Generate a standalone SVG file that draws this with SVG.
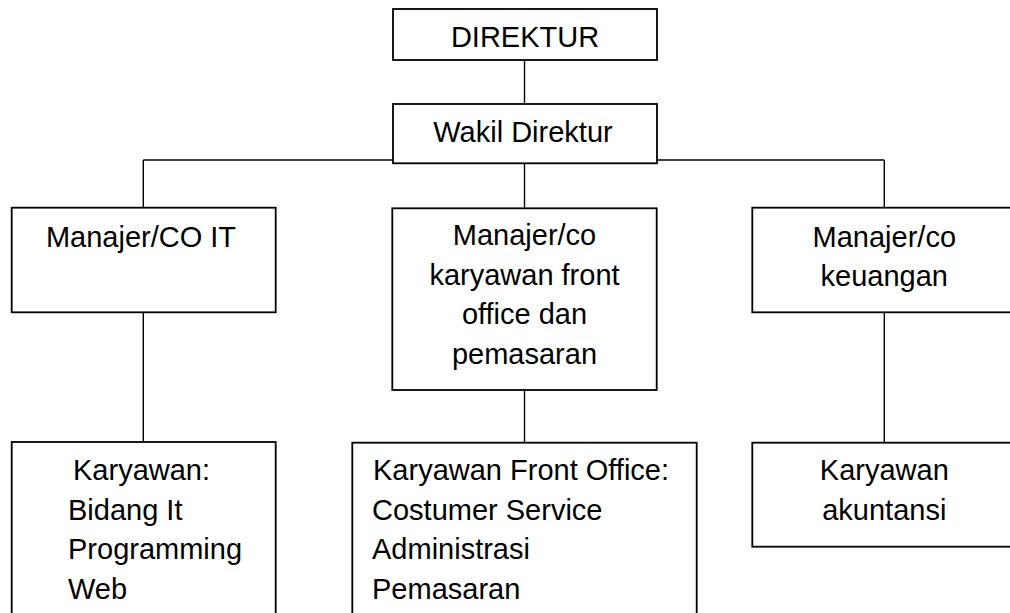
<svg xmlns="http://www.w3.org/2000/svg" width="1010" height="613" viewBox="0 0 1010 613">
<style>
.box{fill:#fff;stroke:#000;stroke-width:1.8}
.conn{fill:none;stroke:#000;stroke-width:1.4}
text{font-family:"Liberation Sans",Arial,sans-serif;font-size:29px;fill:#000}
.c{text-anchor:middle}
</style>
<rect width="1010" height="613" fill="#fff"/>
<g id="connectors">
<line class="conn" x1="524.5" y1="60" x2="524.5" y2="104"/>
<line class="conn" x1="143.3" y1="160" x2="884.3" y2="160"/>
<line class="conn" x1="143.3" y1="160" x2="143.3" y2="207.7"/>
<line class="conn" x1="524.5" y1="163" x2="524.5" y2="208.3"/>
<line class="conn" x1="884.3" y1="160" x2="884.3" y2="207.7"/>
<line class="conn" x1="143.3" y1="312.3" x2="143.3" y2="442"/>
<line class="conn" x1="524.5" y1="390" x2="524.5" y2="442.7"/>
<line class="conn" x1="884.3" y1="312.3" x2="884.3" y2="442.7"/>
</g>
<g id="direktur">
<rect class="box" x="393" y="9" width="264" height="51"/>
<text class="c" x="525" y="46.7">DIREKTUR</text>
</g>
<g id="wakil">
<rect class="box" x="393" y="104" width="264" height="59.3"/>
<text class="c" x="523" y="141.7">Wakil Direktur</text>
</g>
<g id="mgr-it">
<rect class="box" x="11.7" y="207.7" width="264" height="104.6"/>
<text class="c" x="141" y="246.7">Manajer/CO IT</text>
</g>
<g id="mgr-fo">
<rect class="box" x="392.3" y="208.3" width="264.4" height="181.7"/>
<text class="c" x="524.5" y="245">Manajer/co</text>
<text class="c" x="524.5" y="284.5">karyawan front</text>
<text class="c" x="524.5" y="324">office dan</text>
<text class="c" x="524.5" y="363.5">pemasaran</text>
</g>
<g id="mgr-keu">
<rect class="box" x="752.3" y="207.7" width="270" height="104.6"/>
<text class="c" x="884.3" y="246.5">Manajer/co</text>
<text class="c" x="884.3" y="285.5">keuangan</text>
</g>
<g id="kary-it">
<rect class="box" x="11.7" y="442" width="264" height="200"/>
<text x="73" y="480">Karyawan:</text>
<text x="68" y="519.5">Bidang It</text>
<text x="68" y="559">Programming</text>
<text x="68" y="598.5">Web</text>
</g>
<g id="kary-fo">
<rect class="box" x="352.3" y="442.7" width="344.4" height="200"/>
<text x="373" y="480">Karyawan Front Office:</text>
<text x="372" y="519.5">Costumer Service</text>
<text x="372" y="559">Administrasi</text>
<text x="372" y="598.5">Pemasaran</text>
</g>
<g id="kary-akun">
<rect class="box" x="752.3" y="442.7" width="270" height="104"/>
<text class="c" x="884.3" y="480">Karyawan</text>
<text class="c" x="884.3" y="520">akuntansi</text>
</g>
</svg>
